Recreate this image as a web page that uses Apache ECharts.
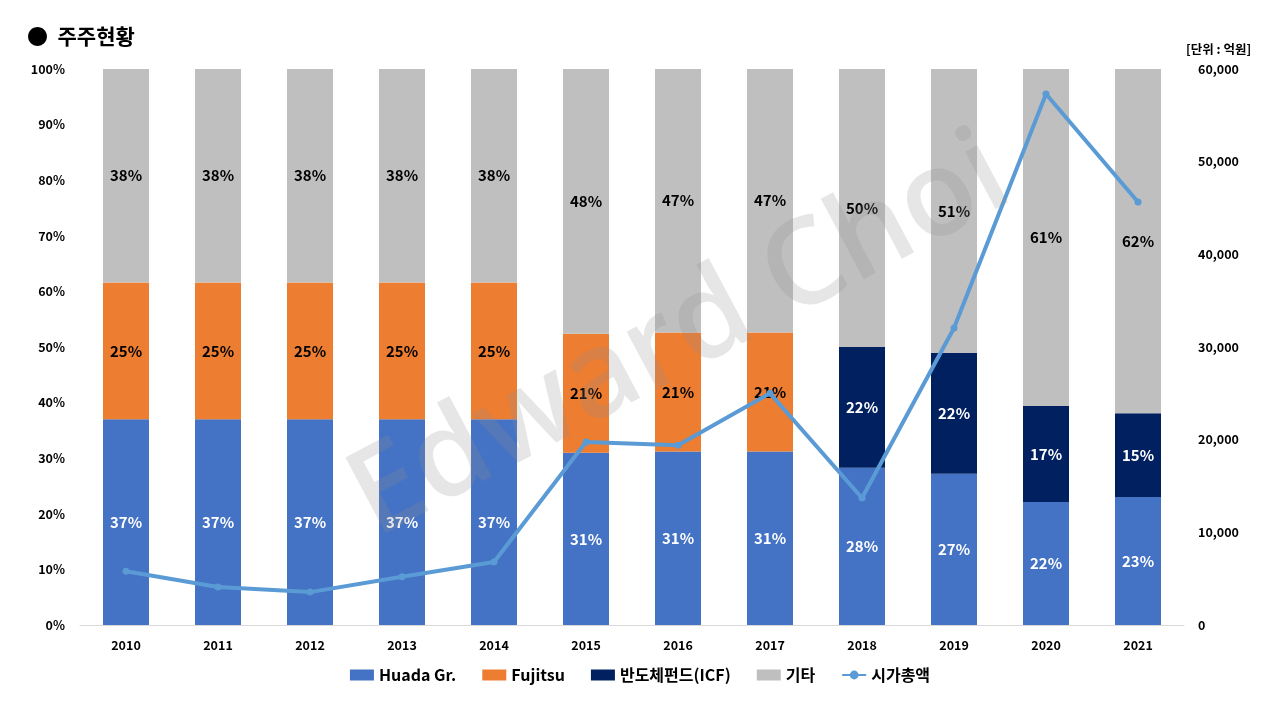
<!DOCTYPE html>
<html>
<head>
<meta charset="utf-8">
<script src="https://cdn.jsdelivr.net/npm/echarts@6/dist/echarts.min.js"></script>
<style>
  html, body { margin: 0; padding: 0; background: #fff; }
  #main { width: 1280px; height: 720px; }
</style>
</head>
<body>
<div id="main"></div>
<script>
// 연도
var years = ['2010', '2011', '2012', '2013', '2014', '2015', '2016', '2017', '2018', '2019', '2020', '2021'];
// 지분율 (%)
var huada = [37.0, 37.0, 37.0, 37.0, 37.0, 31.0, 31.2, 31.2, 28.3, 27.2, 22.1, 23.0];
var fujitsu = [24.6, 24.6, 24.6, 24.6, 24.6, 21.4, 21.4, 21.4, '-', '-', '-', '-'];
var icf = ['-', '-', '-', '-', '-', '-', '-', '-', 21.7, 21.7, 17.3, 15.1];
var others = [38.4, 38.4, 38.4, 38.4, 38.4, 47.6, 47.4, 47.4, 50.0, 51.1, 60.6, 61.9];
// 시가총액 (억원)
var marketCap = [5800, 4100, 3550, 5200, 6800, 19750, 19400, 25000, 13700, 32050, 57300, 45650];

var FONT = '"Noto Sans CJK KR", "Noto Sans", sans-serif';

var dom = document.getElementById('main');
var myChart = echarts.init(dom);

function pctLabel(color) {
    return {
        show: true,
        position: 'inside',
        color: color,
        fontFamily: FONT,
        fontWeight: 'bold',
        fontSize: 15,
        formatter: function (p) {
            if (p.value === '-' || p.value == null) return '';
            return Math.round(p.value) + '%';
        }
    };
}

function barSeries(name, data, color, labelColor) {
    return {
        name: name,
        type: 'bar',
        stack: 'share',
        barWidth: '50%',
        data: data,
        itemStyle: { color: color },
        label: pctLabel(labelColor),
        z: 2
    };
}

var option = {
    backgroundColor: '#ffffff',
    animation: false,
    textStyle: { fontFamily: FONT },
    title: {
        text: '●  주주현황',
        left: 22,
        top: 21,
        textStyle: { fontFamily: FONT, fontSize: 21, fontWeight: 'bold', color: '#000' }
    },
    legend: {
        bottom: 32,
        left: 'center',
        itemWidth: 24,
        itemHeight: 11,
        itemGap: 26,
        textStyle: { fontFamily: FONT, fontSize: 16, fontWeight: 'bold', color: '#000' },
        data: [
            { name: 'Huada Gr.', icon: 'rect' },
            { name: 'Fujitsu', icon: 'rect' },
            { name: '반도체펀드(ICF)', icon: 'rect' },
            { name: '기타', icon: 'rect' },
            { name: '시가총액' }
        ]
    },
    grid: {
        left: 80,
        right: 96,
        top: 69,
        bottom: 95
    },
    xAxis: {
        type: 'category',
        data: years,
        axisLine: { lineStyle: { color: '#d9d9d9', width: 1 } },
        axisTick: { show: false },
        axisLabel: { color: '#000', fontFamily: FONT, fontWeight: 'bold', fontSize: 12.5, margin: 14 }
    },
    yAxis: [
        {
            type: 'value',
            min: 0,
            max: 100,
            interval: 10,
            splitLine: { show: false },
            axisLine: { show: false },
            axisTick: { show: false },
            axisLabel: { color: '#000', fontFamily: FONT, fontWeight: 'bold', fontSize: 12.5, margin: 15, formatter: '{value}%' }
        },
        {
            type: 'value',
            min: 0,
            max: 60000,
            interval: 10000,
            name: '[단위 : 억원]',
            nameGap: 13,
            nameTextStyle: { color: '#000', fontFamily: FONT, fontWeight: 'bold', fontSize: 12.5, align: 'left', padding: [0, 0, 0, 2] },
            splitLine: { show: false },
            axisLine: { show: false },
            axisTick: { show: false },
            axisLabel: {
                color: '#000', fontFamily: FONT, fontWeight: 'bold', fontSize: 12.5, margin: 14,
                formatter: function (v) { return v.toLocaleString('en-US'); }
            }
        }
    ],
    graphic: [
        {
            type: 'text',
            z: 100,
            x: 680,
            y: 338,
            rotation: 28 * Math.PI / 180,
            style: {
                text: 'Edward Choi',
                x: 0,
                y: 0,
                align: 'center',
                verticalAlign: 'middle',
                fontFamily: '"Open Sans", "Noto Sans", sans-serif',
                fontWeight: 600,
                fontSize: 120,
                fill: 'rgba(140,140,140,0.22)'
            }
        }
    ],
    series: [
        barSeries('Huada Gr.', huada, '#4472C4', '#ffffff'),
        barSeries('Fujitsu', fujitsu, '#ED7D31', '#000000'),
        barSeries('반도체펀드(ICF)', icf, '#002060', '#ffffff'),
        barSeries('기타', others, '#BFBFBF', '#000000'),
        {
            name: '시가총액',
            type: 'line',
            yAxisIndex: 1,
            data: marketCap,
            symbol: 'circle',
            symbolSize: 7,
            lineStyle: { color: '#5B9BD5', width: 4 },
            itemStyle: { color: '#5B9BD5' },
            z: 3
        }
    ]
};

myChart.setOption(option);
</script>
</body>
</html>
